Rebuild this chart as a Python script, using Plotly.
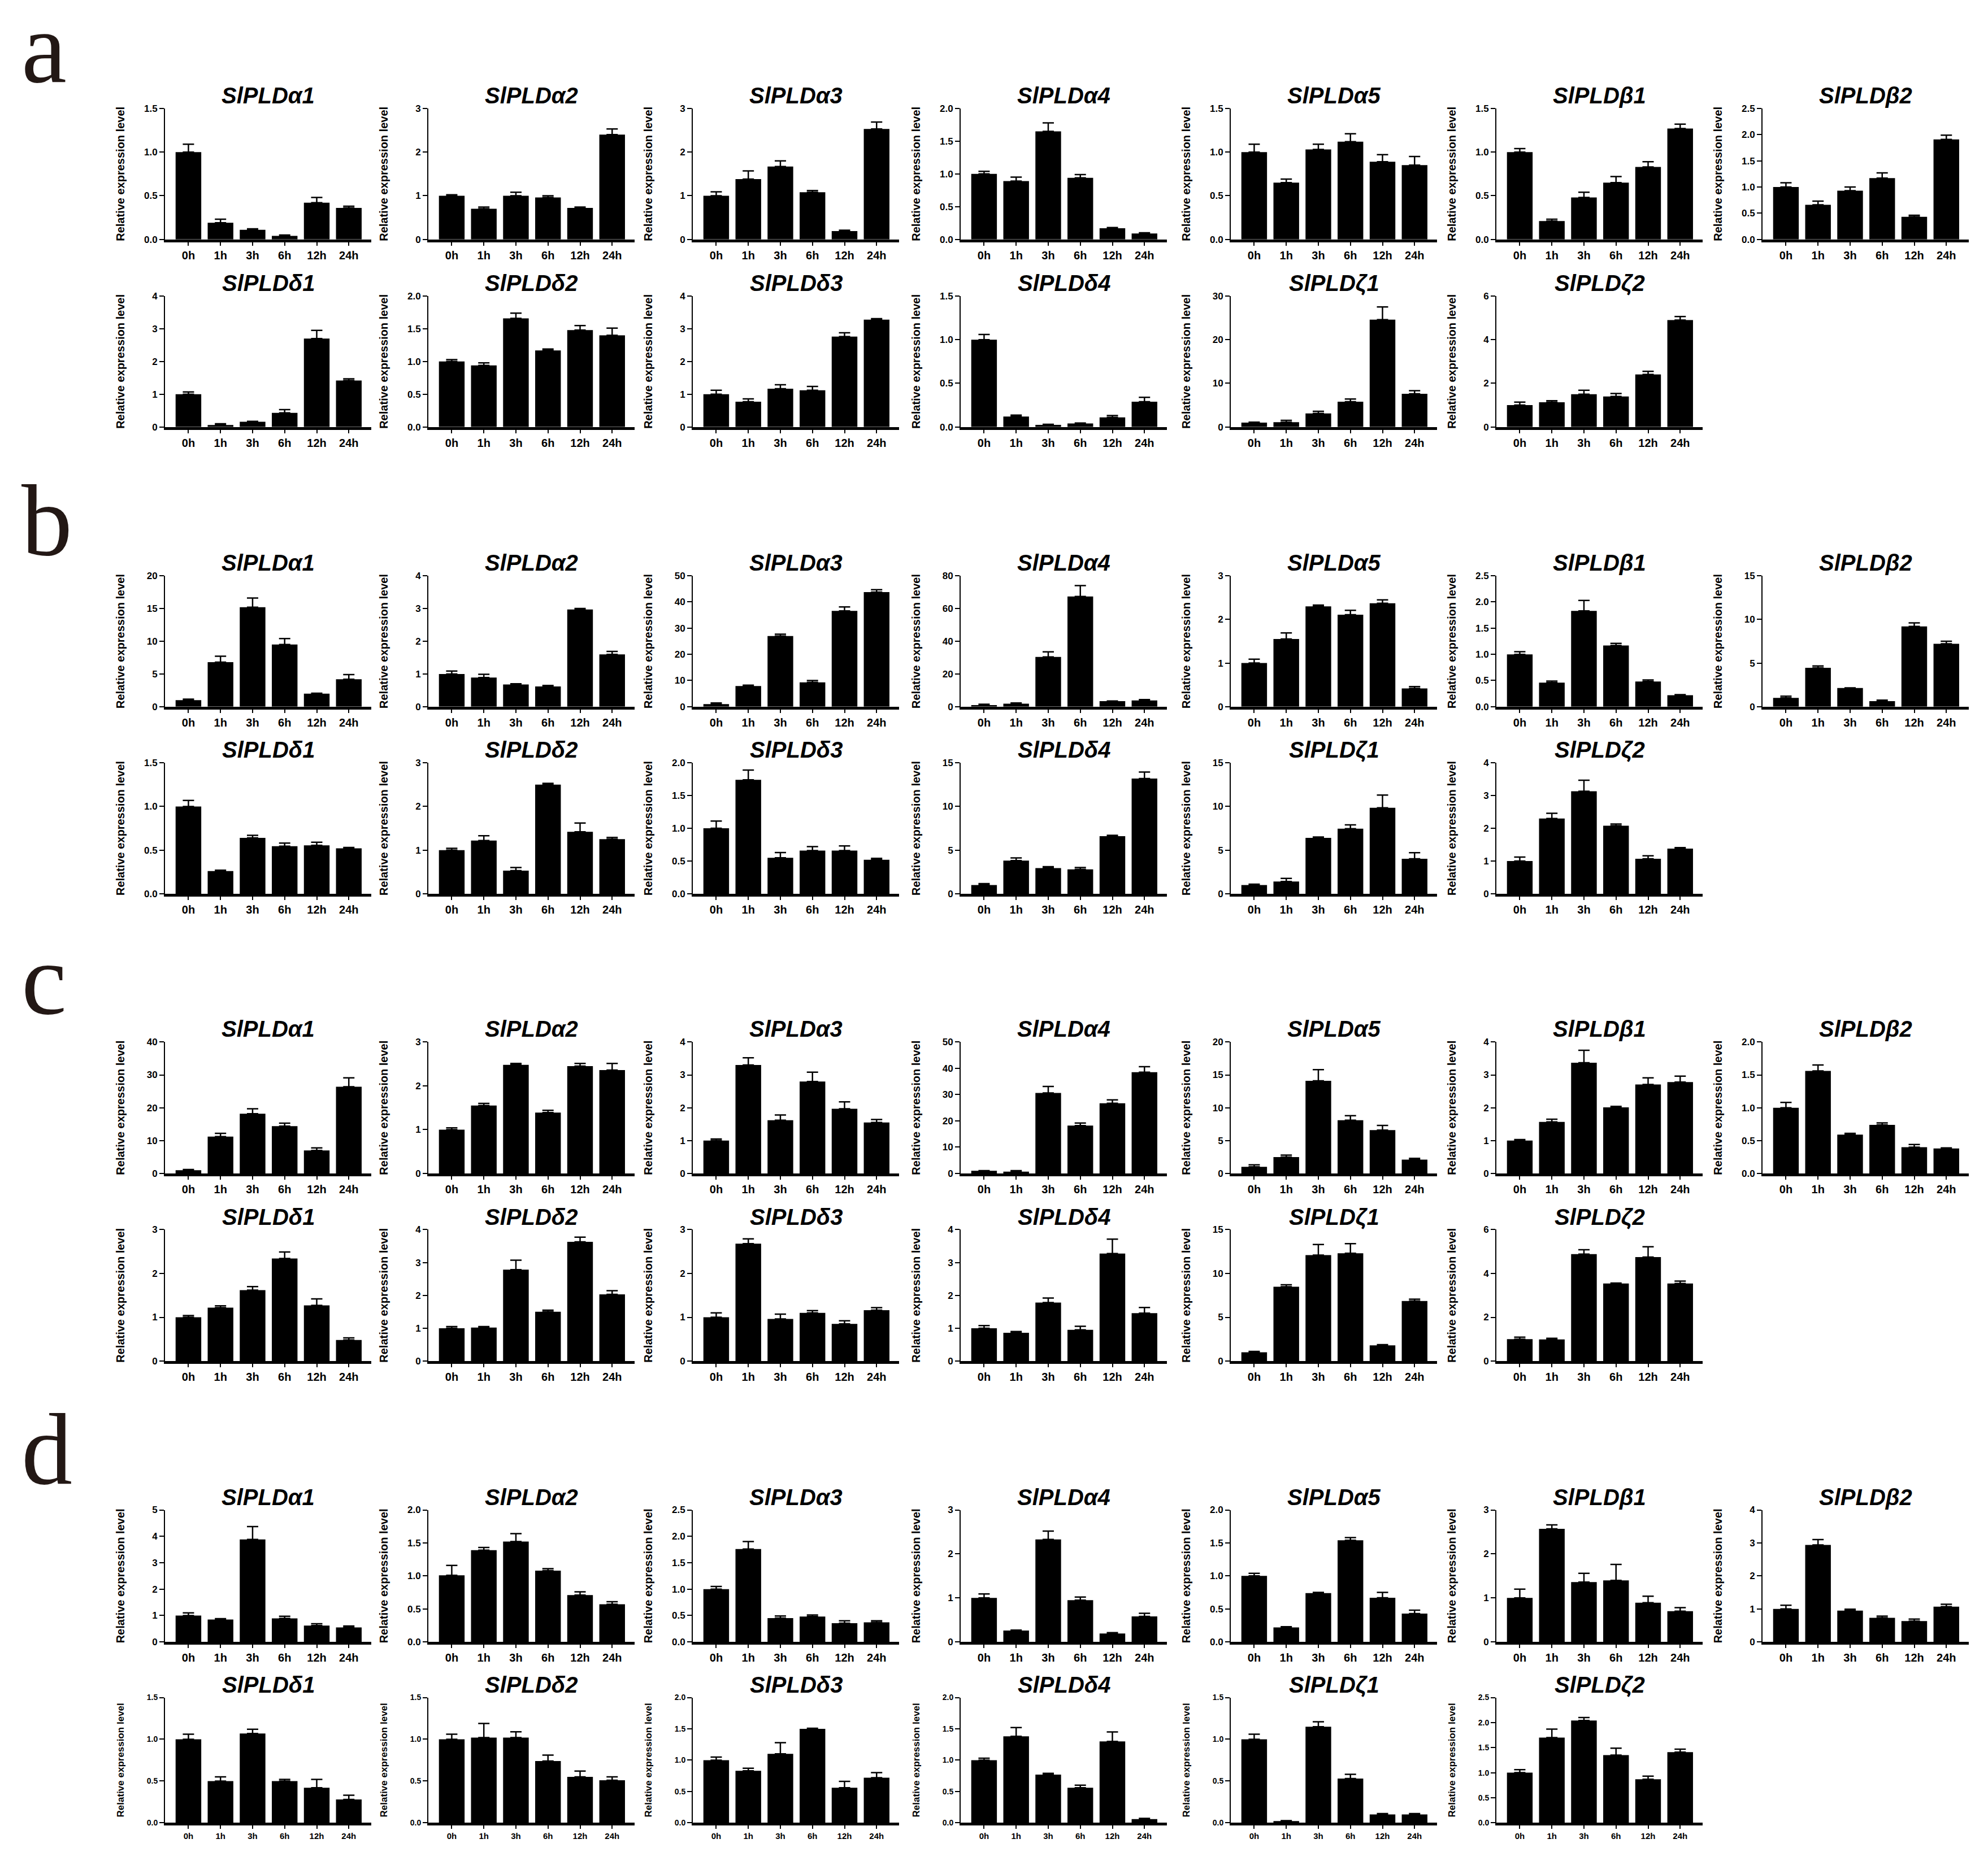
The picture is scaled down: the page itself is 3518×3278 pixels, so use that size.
import plotly.graph_objects as go

W, H = 3518, 3278

times = ['0h', '1h', '3h', '6h', '12h', '24h']
genes = ['SlPLDα1', 'SlPLDα2', 'SlPLDα3', 'SlPLDα4', 'SlPLDα5', 'SlPLDβ1', 'SlPLDβ2',
         'SlPLDδ1', 'SlPLDδ2', 'SlPLDδ3', 'SlPLDδ4', 'SlPLDζ1', 'SlPLDζ2']
panel_labels = ['a', 'b', 'c', 'd']

# relative expression (mean) and SD, one list per gene, in the order of `genes`
a_mean = [
    [1.00, 0.19, 0.11, 0.04, 0.42, 0.36],
    [1.00, 0.70, 1.00, 0.96, 0.72, 2.40],
    [1.00, 1.38, 1.67, 1.08, 0.19, 2.53],
    [1.00, 0.89, 1.65, 0.94, 0.17, 0.09],
    [1.00, 0.65, 1.03, 1.12, 0.89, 0.85],
    [1.00, 0.21, 0.48, 0.65, 0.83, 1.27],
    [1.00, 0.66, 0.93, 1.17, 0.43, 1.91],
    [1.00, 0.06, 0.16, 0.43, 2.70, 1.42],
    [1.00, 0.94, 1.66, 1.17, 1.48, 1.40],
    [1.00, 0.77, 1.17, 1.12, 2.76, 3.28],
    [1.00, 0.12, 0.024, 0.04, 0.11, 0.29],
    [1.00, 1.10, 3.10, 5.80, 24.6, 7.60],
    [1.00, 1.13, 1.50, 1.40, 2.41, 4.90],
]
a_sd = [
    [0.09, 0.04, 0.01, 0.01, 0.06, 0.02],
    [0.02, 0.04, 0.08, 0.04, 0.02, 0.13],
    [0.09, 0.19, 0.13, 0.04, 0.02, 0.16],
    [0.04, 0.06, 0.13, 0.05, 0.01, 0.01],
    [0.09, 0.04, 0.06, 0.09, 0.08, 0.10],
    [0.04, 0.02, 0.06, 0.07, 0.06, 0.05],
    [0.08, 0.07, 0.07, 0.10, 0.03, 0.08],
    [0.07, 0.04, 0.01, 0.10, 0.25, 0.05],
    [0.03, 0.04, 0.08, 0.02, 0.07, 0.11],
    [0.12, 0.09, 0.12, 0.12, 0.12, 0.03],
    [0.06, 0.015, 0.006, 0.005, 0.02, 0.05],
    [0.10, 0.40, 0.50, 0.60, 2.90, 0.70],
    [0.14, 0.07, 0.18, 0.13, 0.14, 0.16],
]
a_ymax = [1.5, 3, 3, 2.0, 1.5, 1.5, 2.5, 4, 2.0, 4, 1.5, 30, 6]
a_dtick = [0.5, 1, 1, 0.5, 0.5, 0.5, 0.5, 1, 0.5, 1, 0.5, 10, 2]

b_mean = [
    [1.00, 6.80, 15.2, 9.50, 2.00, 4.20],
    [1.00, 0.89, 0.68, 0.62, 2.97, 1.60],
    [1.00, 7.90, 27.0, 9.30, 36.6, 43.8],
    [1.00, 1.80, 30.4, 67.4, 3.40, 3.80],
    [1.00, 1.55, 2.30, 2.11, 2.37, 0.42],
    [1.00, 0.46, 1.83, 1.17, 0.48, 0.22],
    [1.00, 4.46, 2.14, 0.64, 9.20, 7.20],
    [1.00, 0.26, 0.64, 0.545, 0.555, 0.52],
    [1.00, 1.22, 0.53, 2.50, 1.42, 1.25],
    [1.00, 1.74, 0.55, 0.66, 0.66, 0.52],
    [1.00, 3.80, 2.94, 2.80, 6.60, 13.2],
    [1.00, 1.40, 6.40, 7.45, 9.85, 4.00],
    [1.00, 2.30, 3.13, 2.08, 1.07, 1.38],
]
b_sd = [
    [0.15, 0.90, 1.40, 0.90, 0.05, 0.70],
    [0.09, 0.10, 0.02, 0.03, 0.03, 0.09],
    [0.40, 0.30, 0.70, 0.70, 1.50, 0.90],
    [0.50, 0.50, 3.10, 6.60, 0.10, 0.50],
    [0.09, 0.14, 0.03, 0.10, 0.08, 0.04],
    [0.05, 0.03, 0.20, 0.04, 0.03, 0.01],
    [0.20, 0.21, 0.02, 0.11, 0.40, 0.30],
    [0.07, 0.01, 0.03, 0.035, 0.035, 0.01],
    [0.04, 0.11, 0.07, 0.03, 0.20, 0.04],
    [0.11, 0.15, 0.08, 0.06, 0.07, 0.02],
    [0.16, 0.30, 0.16, 0.20, 0.10, 0.75],
    [0.10, 0.36, 0.10, 0.45, 1.45, 0.70],
    [0.12, 0.16, 0.34, 0.05, 0.09, 0.03],
]
b_ymax = [20, 4, 50, 80, 3, 2.5, 15, 1.5, 3, 2.0, 15, 15, 4]
b_dtick = [5, 1, 10, 20, 1, 0.5, 5, 0.5, 1, 0.5, 5, 5, 1]

c_mean = [
    [1.00, 11.2, 18.2, 14.4, 7.00, 26.4],
    [1.00, 1.55, 2.48, 1.39, 2.45, 2.36],
    [1.00, 3.30, 1.62, 2.80, 1.97, 1.55],
    [1.00, 0.70, 30.6, 18.2, 26.7, 38.5],
    [1.00, 2.50, 14.1, 8.10, 6.60, 2.10],
    [1.00, 1.57, 3.37, 2.01, 2.71, 2.78],
    [1.00, 1.56, 0.59, 0.74, 0.40, 0.38],
    [1.00, 1.22, 1.62, 2.34, 1.27, 0.48],
    [1.00, 1.02, 2.78, 1.50, 3.63, 2.03],
    [1.00, 2.68, 0.96, 1.10, 0.85, 1.16],
    [1.00, 0.86, 1.78, 0.95, 3.27, 1.46],
    [1.00, 8.48, 12.1, 12.3, 1.80, 6.85],
    [1.00, 0.99, 4.88, 3.54, 4.75, 3.54],
]
c_sd = [
    [0.20, 1.00, 1.50, 0.90, 0.80, 2.70],
    [0.04, 0.05, 0.03, 0.05, 0.06, 0.15],
    [0.05, 0.22, 0.16, 0.28, 0.21, 0.09],
    [0.10, 0.40, 2.50, 1.00, 1.30, 2.10],
    [0.30, 0.30, 1.70, 0.70, 0.70, 0.20],
    [0.03, 0.08, 0.38, 0.03, 0.20, 0.18],
    [0.08, 0.09, 0.02, 0.03, 0.04, 0.01],
    [0.04, 0.04, 0.08, 0.15, 0.15, 0.05],
    [0.05, 0.03, 0.29, 0.05, 0.14, 0.11],
    [0.10, 0.11, 0.11, 0.05, 0.07, 0.06],
    [0.08, 0.04, 0.14, 0.11, 0.44, 0.17],
    [0.10, 0.22, 1.20, 1.10, 0.08, 0.22],
    [0.09, 0.05, 0.20, 0.02, 0.47, 0.11],
]
c_ymax = [40, 3, 4, 50, 20, 4, 2.0, 3, 4, 3, 4, 15, 6]
c_dtick = [10, 1, 1, 10, 5, 1, 0.5, 1, 1, 1, 1, 5, 2]

d_mean = [
    [1.00, 0.85, 3.88, 0.89, 0.62, 0.55],
    [1.01, 1.39, 1.52, 1.08, 0.71, 0.57],
    [1.00, 1.76, 0.45, 0.48, 0.355, 0.37],
    [1.00, 0.26, 2.33, 0.95, 0.19, 0.58],
    [1.00, 0.22, 0.74, 1.54, 0.67, 0.43],
    [1.00, 2.57, 1.36, 1.40, 0.89, 0.70],
    [1.00, 2.94, 0.95, 0.73, 0.63, 1.07],
    [1.00, 0.50, 1.07, 0.50, 0.42, 0.28],
    [1.00, 1.02, 1.02, 0.74, 0.55, 0.51],
    [1.00, 0.83, 1.10, 1.50, 0.56, 0.72],
    [1.00, 1.38, 0.77, 0.56, 1.30, 0.06],
    [1.00, 0.02, 1.15, 0.53, 0.10, 0.10],
    [1.00, 1.70, 2.04, 1.35, 0.87, 1.41],
]
d_sd = [
    [0.10, 0.03, 0.49, 0.08, 0.07, 0.05],
    [0.15, 0.04, 0.12, 0.03, 0.05, 0.04],
    [0.05, 0.14, 0.04, 0.03, 0.045, 0.03],
    [0.09, 0.01, 0.19, 0.07, 0.02, 0.07],
    [0.04, 0.01, 0.01, 0.04, 0.08, 0.05],
    [0.20, 0.09, 0.20, 0.36, 0.15, 0.08],
    [0.11, 0.16, 0.04, 0.05, 0.06, 0.07],
    [0.06, 0.05, 0.05, 0.02, 0.10, 0.05],
    [0.06, 0.17, 0.07, 0.07, 0.07, 0.04],
    [0.05, 0.04, 0.18, 0.01, 0.10, 0.08],
    [0.03, 0.14, 0.02, 0.04, 0.15, 0.01],
    [0.06, 0.005, 0.06, 0.05, 0.01, 0.01],
    [0.06, 0.17, 0.06, 0.14, 0.06, 0.06],
]
d_ymax = [5, 2.0, 2.5, 3, 2.0, 3, 4, 1.5, 1.5, 2.0, 2.0, 1.5, 2.5]
d_dtick = [1, 0.5, 0.5, 1, 0.5, 1, 1, 0.5, 0.5, 0.5, 0.5, 0.5, 0.5]

panels = [
    (a_mean, a_sd, a_ymax, a_dtick),
    (b_mean, b_sd, b_ymax, b_dtick),
    (c_mean, c_sd, c_ymax, c_dtick),
    (d_mean, d_sd, d_ymax, d_dtick),
]

# layout in pixels (plot-area top / bottom of each row, left edge of each column)
row_top = [[176, 510], [1008, 1341], [1838, 2172], [2671, 3005]]
row_bot = [[409, 743], [1241, 1574], [2072, 2406], [2906, 3228]]
letter_mid = [68, 910, 1727, 2563]
col_left = [284, 750, 1218, 1692, 2170, 2640, 3111]
plot_w = 365

FONT = 'Liberation Sans, Arial, sans-serif'


def px(x):
    return x / W


def py(y):
    return 1 - y / H


fig = go.Figure()
annotations = []
layout_axes = {}
n = 0

for p, (means, sds, ymaxs, dticks) in enumerate(panels):
    annotations.append(dict(
        text=panel_labels[p], xref='paper', yref='paper',
        x=px(28), y=py(letter_mid[p]), xanchor='left', yanchor='middle',
        showarrow=False, font=dict(family='Liberation Serif, Times New Roman, serif',
                                   size=180, color='#231815')))
    for g in range(13):
        n += 1
        r = 0 if g < 7 else 1
        c = g if g < 7 else g - 7
        x0 = col_left[c]
        x1 = x0 + plot_w
        y0 = row_top[p][r]
        y1 = row_bot[p][r]
        small = (p == 3 and r == 1)
        xa = 'x' if n == 1 else 'x%d' % n
        ya = 'y' if n == 1 else 'y%d' % n

        fig.add_trace(go.Bar(
            x=times, y=means[g], xaxis=xa, yaxis=ya,
            width=0.8, marker=dict(color='black', line=dict(width=0)),
            error_y=dict(type='data', array=sds[g], arrayminus=[0] * 6,
                         symmetric=False, color='black', thickness=2.5, width=10),
            showlegend=False, hoverinfo='skip'))

        fmt = '.1f' if dticks[g] < 1 else 'd'
        layout_axes['xaxis' if n == 1 else 'xaxis%d' % n] = dict(
            domain=[px(x0), px(x1)], anchor=ya,
            type='category', categoryorder='array', categoryarray=times,
            range=[-0.73, 5.7], showline=True, linewidth=5, linecolor='black',
            ticks='outside', ticklen=6, tickwidth=2, tickcolor='black',
            tickfont=dict(family=FONT, size=15 if small else 20, color='black', weight='bold'),
            showgrid=False, zeroline=False, fixedrange=True)
        layout_axes['yaxis' if n == 1 else 'yaxis%d' % n] = dict(
            domain=[py(y1), py(y0)], anchor=xa,
            range=[0, ymaxs[g]], tick0=0, dtick=dticks[g], tickformat=fmt,
            showline=True, linewidth=2, linecolor='black',
            ticks='outside', ticklen=8, tickwidth=2, tickcolor='black',
            tickfont=dict(family=FONT, size=14 if small else 17, color='black', weight='bold'),
            showgrid=False, zeroline=False, fixedrange=True)

        annotations.append(dict(
            text='<b><i>%s</i></b>' % genes[g], xref='paper', yref='paper',
            x=px((x0 + x1) / 2), y=py(y0 - 23), xanchor='center', yanchor='middle',
            showarrow=False, font=dict(family=FONT, size=40, color='black')))
        annotations.append(dict(
            text='<b>Relative expression level</b>', xref='paper', yref='paper',
            x=px(x0 - 79), y=py((y0 + y1) / 2), xanchor='center', yanchor='middle',
            textangle=-90, showarrow=False,
            font=dict(family=FONT, size=17 if small else 20, color='black')))

fig.update_layout(
    width=W, height=H,
    margin=dict(l=0, r=0, t=0, b=0),
    paper_bgcolor='white', plot_bgcolor='white',
    showlegend=False,
    annotations=annotations,
    **layout_axes)

fig.write_html('out.html')
